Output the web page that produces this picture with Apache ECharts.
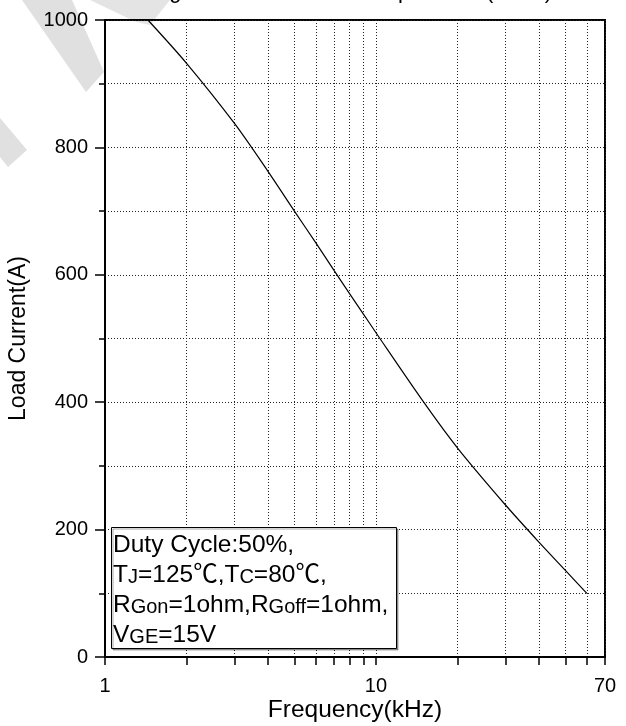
<!DOCTYPE html>
<html><head><meta charset="utf-8">
<script src="https://cdn.jsdelivr.net/npm/echarts@6/dist/echarts.min.js"></script>
<style>html,body{margin:0;padding:0;background:#fff}#c{width:626px;height:726px}</style>
</head><body><div id="c"></div>
<script>
// ---- data ----
const frequencyKHz = [1.44, 2, 3, 4, 5, 6, 7, 8, 9, 10, 15, 20, 30, 40, 50, 60];
const loadCurrentA = [1000, 932, 838, 762, 700, 650, 607, 570, 538, 509, 400, 328, 239, 180, 136, 100];
const xTickValues = [1, 2, 3, 4, 5, 6, 7, 8, 9, 10, 20, 30, 40, 50, 60, 70];
const xLabelValues = [1, 10, 70];
const yMin = 0, yMax = 1000, yStep = 200;
const titleText = 'Rating Load Current vs. Temperature (IGBT)';
const xName = 'Frequency(kHz)';
const yName = 'Load Current(A)';
const noteText = [
  '{n|Duty Cycle:50%,}',
  '{n|T}{s|J}{n|=125℃,T}{s|C}{n|=80℃,}',
  '{n|R}{s|Gon}{n|=1ohm,R}{s|Goff}{n|=1ohm,}',
  '{n|V}{s|GE}{n|=15V}'
].join('\n');

const FONT = '"Liberation Sans", Arial, "Noto Sans CJK SC", sans-serif';
const dotted = { type: [1, 2], color: '#222', width: 1 };
const chart = echarts.init(document.getElementById('c'), null, { renderer: 'canvas' });
chart.setOption({
  animation: false,
  backgroundColor: '#fff',
  title: {
    text: titleText, left: 113, top: -24,
    textStyle: { fontFamily: FONT, fontSize: 22, fontWeight: 'normal', color: '#000' }
  },
  grid: { left: 105, right: 21, top: 20, bottom: 69, show: true, borderColor: '#000', borderWidth: 2,
          containLabel: false, outerBoundsMode: 'none' },
  xAxis: {
    type: 'log', logBase: 10, min: 1, max: 70,
    name: xName, nameLocation: 'middle', nameGap: 41, nameMoveOverlap: false,
    nameTextStyle: { fontFamily: FONT, fontSize: 24.5, color: '#000' },
    axisLine: { lineStyle: { color: '#000', width: 2 } },
    axisTick: { show: true, inside: false, length: 8, customValues: xTickValues, lineStyle: { color: '#000', width: 1.5 } },
    axisLabel: { customValues: xLabelValues, margin: 19, fontFamily: FONT, fontSize: 20, color: '#000' },
    splitLine: { show: true, lineStyle: dotted },
    minorTick: { show: false }, minorSplitLine: { show: false }
  },
  yAxis: {
    type: 'value', min: yMin, max: yMax, interval: yStep,
    name: yName, nameLocation: 'middle', nameGap: 75, nameMoveOverlap: false,
    nameTextStyle: { fontFamily: FONT, fontSize: 23, color: '#000' },
    axisLine: { show: true, lineStyle: { color: '#000', width: 2 } },
    axisTick: { show: true, length: 10, lineStyle: { color: '#000', width: 1.5 } },
    minorTick: { show: true, splitNumber: 2, length: 6, lineStyle: { color: '#000', width: 1.5 } },
    axisLabel: { margin: 17, fontFamily: FONT, fontSize: 20, color: '#000', formatter: v => String(v) },
    splitLine: { show: true, lineStyle: dotted },
    minorSplitLine: { show: true, lineStyle: dotted }
  },
  series: [{
    type: 'line', data: frequencyKHz.map((f, i) => [f, loadCurrentA[i]]),
    smooth: 0.3, showSymbol: false, symbol: 'none', clip: true,
    lineStyle: { color: '#000', width: 1.2 }
  }],
  graphic: [
    { type: 'polygon', z: -10, shape: { points: [[22, 0], [72, 0], [104, 72], [86, 92]] }, style: { fill: '#e0e0e0' } },
    { type: 'polygon', z: -10, shape: { points: [[90, 0], [170, 0], [150, 25], [136, 22]] }, style: { fill: '#e4e4e4' } },
    { type: 'polygon', z: -10, shape: { points: [[0, 118], [27, 150], [8, 167], [0, 157]] }, style: { fill: '#e0e0e0' } },
    { type: 'rect', z: 50, shape: { x: 111.5, y: 527.5, width: 285, height: 121 },
      style: { fill: '#fff', stroke: '#000', lineWidth: 1, shadowColor: 'rgba(0,0,0,0.35)', shadowOffsetX: 1.5, shadowOffsetY: 1.5, shadowBlur: 0 } },
    { type: 'text', z: 51, x: 113, y: 527,
      style: {
        text: noteText, fill: '#000',
        rich: {
          n: { fontFamily: FONT, fontSize: 24.5, lineHeight: 30, verticalAlign: 'bottom', fill: '#000' },
          s: { fontFamily: FONT, fontSize: 20, lineHeight: 25, verticalAlign: 'bottom', fill: '#000' }
        }
      } }
  ]
});
</script></body></html>
